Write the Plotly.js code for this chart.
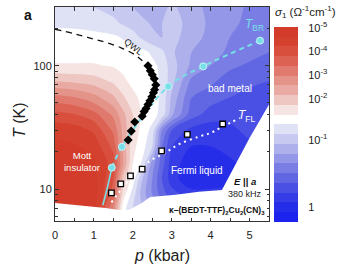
<!DOCTYPE html>
<html><head><meta charset="utf-8">
<script src="https://cdn.plot.ly/plotly-3.0.1.min.js"></script>
<style>html,body{margin:0;padding:0;background:#fff;} #chart{width:346px;height:270px;}</style>
</head><body><div id="chart"></div>
<script>
// ---- data ----
const pressure = [0, 0.5, 1.0, 1.5, 1.75, 2.0, 2.25, 2.5, 2.75, 3.0, 3.5, 4.0, 4.5, 5.0, 5.5];
const temperature = [5.5, 7, 9, 12, 16, 22, 30, 40, 55, 75, 100, 130, 170, 220, 300];
// log10 sigma_1 (Ohm^-1 cm^-1), one row per temperature
const logSigma = [
  [-4.96,-4.92,-4.83,-2.96,-1.50,-1.14,-0.94,-0.80,-0.65,-0.51,-0.36,-0.36,-0.36,-0.36,-0.36],
  [-4.96,-4.92,-4.83,-2.96,-1.50,-1.14,-0.94,-0.80,-0.65,-0.51,-0.36,-0.36,-0.36,-0.36,-0.36],
  [-4.96,-4.92,-4.83,-3.58,-1.74,-1.26,-0.87,-0.65,-0.43,-0.29,-0.14,-0.14,-0.14,-0.17,-0.22],
  [-4.92,-4.88,-4.79,-3.79,-1.98,-1.50,-0.94,-0.65,-0.36,-0.14,0.04,0.04,-0.03,-0.10,-0.22],
  [-4.83,-4.83,-4.71,-4.00,-2.56,-1.62,-1.33,-0.72,-0.43,-0.14,0.01,0.01,-0.04,-0.13,-0.22],
  [-4.71,-4.67,-4.50,-3.67,-2.44,-1.69,-1.48,-1.14,-0.51,-0.22,-0.07,-0.07,-0.13,-0.19,-0.22],
  [-4.50,-4.42,-4.13,-3.29,-2.44,-1.81,-1.52,-1.31,-0.65,-0.36,-0.17,-0.14,-0.19,-0.25,-0.29],
  [-3.96,-3.83,-3.54,-2.88,-2.28,-1.86,-1.57,-1.48,-1.29,-0.83,-0.43,-0.29,-0.25,-0.25,-0.25],
  [-3.13,-3.00,-2.72,-2.24,-1.90,-1.69,-1.55,-1.48,-1.33,-0.91,-0.51,-0.43,-0.36,-0.32,-0.29],
  [-2.16,-2.08,-1.98,-1.81,-1.67,-1.55,-1.50,-1.48,-1.33,-1.00,-0.62,-0.54,-0.43,-0.39,-0.36],
  [-1.64,-1.64,-1.64,-1.60,-1.55,-1.50,-1.48,-1.45,-1.31,-1.02,-0.77,-0.65,-0.54,-0.48,-0.43],
  [-1.52,-1.52,-1.52,-1.52,-1.50,-1.50,-1.45,-1.33,-1.19,-0.97,-0.80,-0.72,-0.62,-0.57,-0.51],
  [-1.50,-1.50,-1.48,-1.43,-1.36,-1.24,-1.10,-0.97,-0.94,-1.00,-0.86,-0.75,-0.65,-0.58,-0.52],
  [-1.33,-1.31,-1.26,-1.19,-1.12,-1.05,-0.97,-0.93,-0.94,-1.05,-0.87,-0.77,-0.68,-0.62,-0.58],
  [-1.24,-1.19,-1.14,-1.07,-1.00,-0.94,-0.90,-0.87,-0.90,-0.97,-0.86,-0.75,-0.68,-0.64,-0.61]
];
// region without data (white)
const noDataP = [0, 0.6, 1.3, 1.6, 1.9, 2.2, 2.45, 3.1, 3.7, 4.29, 5.0, 5.6, 5.6, 0];
const noDataT = [7.7, 7.4, 7.0, 6.8, 6.8, 7.6, 8.6, 9.0, 9.5, 9.8, 26, 55, 5, 5];
// QWL crossover
const qwlP = [0, 0.5, 0.9, 1.3, 1.7, 2.05, 2.3];
const qwlT = [198, 182, 168, 155, 140, 123, 106];
// black diamonds
const diamondP = [2.39, 2.45, 2.50, 2.55, 2.59, 2.56, 2.53, 2.49, 2.44, 2.39, 2.34, 2.29, 2.24, 2.05, 1.96, 1.88];
const diamondT = [100, 91, 84.5, 78.5, 70, 64, 60.5, 56, 52, 48.5, 45, 42.5, 39, 35, 29.5, 25];
// T_BR (cyan)
const tbrP = [1.46, 1.72, 2.91, 3.81, 5.27];
const tbrT = [14.9, 22, 68, 99, 160];
const mottLineP = [1.46, 1.35, 1.23];
const mottLineT = [14.9, 10.4, 7.4];
// T_FL (white dotted) and squares
const tflP = [1.45, 1.8, 2.1, 2.45, 2.85, 3.2, 3.7, 4.0, 4.3, 4.75];
const tflT = [7.8, 10.8, 13.8, 17, 19.8, 23.2, 26.6, 28.5, 32, 37.6];
const squareP = [1.45, 1.69, 1.94, 2.24, 2.74, 3.40, 4.31];
const squareT = [9.3, 11, 12.8, 14.5, 20.4, 27.8, 33.7];
// colour bar: exponents, labels and their place on the bar (in bands)
const cbExp = [-5, -4, -3, -2, -1, 0];
const cbLabels = ['10<sup>-5</sup>', '10<sup>-4</sup>', '10<sup>-3</sup>', '10<sup>-2</sup>', '10<sup>-1</sup>', '1'];
const cbPos = [0.1, 2.5, 4.9, 7.4, 11.6, 18.5];
const bandColors = ['#d33b2a','#d5412f','#d84f3e','#dc6353','#e07a6e','#e49388','#e9aaa3','#eec6c2','#f5e4e2','#ffffff',
  '#dfe1f5','#c7c9f0','#adb0eb','#9497e7','#7a7ee4','#6166e2','#4a50e3','#363ce6','#262de9','#1c23ec'];

function level(L) {
  let i = 0;
  if (L <= cbExp[0]) i = 0;
  else if (L >= cbExp[cbExp.length - 1]) i = cbExp.length - 2;
  else { while (L > cbExp[i + 1]) i++; }
  const f = (L - cbExp[i]) / (cbExp[i + 1] - cbExp[i]);
  return cbPos[i] + f * (cbPos[i + 1] - cbPos[i]);
}
const nb = bandColors.length;
const zLevel = logSigma.map(r => r.map(v => -Math.min(nb - 0.05, Math.max(0.05, level(v)))));
const contourScale = [];
for (let j = 0; j < nb; j++) {
  const c = bandColors[nb - 1 - j];
  contourScale.push([j / nb, c]);
  contourScale.push([(j + 1) / nb, c]);
}
const barScale = [];
for (let j = 0; j < nb; j++) {
  barScale.push([j / nb, bandColors[j]]);
  barScale.push([(j + 1) / nb, bandColors[j]]);
}
const bandIdx = bandColors.map((c, k) => k);

const FONT = 'Liberation Sans, Arial, sans-serif';
const cyan = '#76dfe8';

const traces = [
  {type: 'contour', x: pressure, y: temperature, z: zLevel, zmin: -nb, zmax: 0, zauto: false,
   contours: {start: -nb, end: 0, size: 1, coloring: 'fill', showlines: false},
   line: {width: 0, smoothing: 0.9}, colorscale: contourScale, showscale: false, hoverinfo: 'skip'},
  {type: 'scatter', mode: 'lines', x: noDataP, y: noDataT, fill: 'toself', fillcolor: '#ffffff',
   line: {width: 0, color: '#ffffff'}, hoverinfo: 'skip', showlegend: false},
  {type: 'scatter', mode: 'lines', x: qwlP, y: qwlT, line: {color: '#111', width: 1.3, dash: '6px,5px', shape: 'spline'}, showlegend: false},
  {type: 'scatter', mode: 'lines', x: tflP, y: tflT, line: {color: '#ffffff', width: 2, dash: '2px,4px', shape: 'spline'}, showlegend: false},
  {type: 'scatter', mode: 'lines', x: tbrP, y: tbrT, line: {color: cyan, width: 2, dash: '5px,4px', shape: 'spline'}, showlegend: false},
  {type: 'scatter', mode: 'lines', x: mottLineP, y: mottLineT, line: {color: cyan, width: 1.6, shape: 'spline'}, showlegend: false},
  {type: 'scatter', mode: 'markers', x: diamondP, y: diamondT, marker: {symbol: 'diamond', size: 7, color: '#000'}, showlegend: false},
  {type: 'scatter', mode: 'markers', x: squareP, y: squareT, marker: {symbol: 'square', size: 5.5, color: '#fff', line: {color: '#000', width: 1.3}}, showlegend: false},
  {type: 'scatter', mode: 'markers', x: tbrP, y: tbrT, marker: {symbol: 'circle', size: 7, color: cyan, line: {color: '#c8f5f8', width: 1}}, showlegend: false},
  // colour bar drawn as a one-column heatmap of the bands
  {type: 'heatmap', x: [0], y: bandIdx.map(k => k + 0.5), z: bandIdx.map(k => [k]), zmin: -0.5, zmax: nb - 0.5,
   colorscale: barScale, showscale: false, xaxis: 'x2', yaxis: 'y2', hoverinfo: 'skip'}
];

const ann = (text, x, y, extra) => Object.assign({text: text, x: x, y: y, xref: 'x', yref: 'y', showarrow: false,
  xanchor: 'center', yanchor: 'middle', font: {family: FONT, size: 10, color: '#fff'}}, extra || {});
const dann = (text, x, y, extra) => Object.assign({text: text, x: x, y: y, xref: 'x domain', yref: 'y domain', showarrow: false,
  xanchor: 'center', yanchor: 'middle'}, extra || {});

const layout = {
  width: 346, height: 270,
  margin: {l: 55, r: 0, t: 7, b: 48, autoexpand: false},
  paper_bgcolor: '#fff', plot_bgcolor: 'rgba(0,0,0,0)',
  showlegend: false,
  font: {family: FONT, size: 11, color: '#222'},
  xaxis: {domain: [0, 0.7354], range: [0, 5.5], tickmode: 'array', tickvals: [0, 1, 2, 3, 4, 5], ticks: 'inside', ticklen: 3.5,
    tickcolor: '#333', linecolor: '#333', linewidth: 1, mirror: 'ticks', showline: true, showgrid: false, zeroline: false,
    ticklabelstandoff: 4,
    minor: {tickmode: 'linear', tick0: 0, dtick: 0.5, ticks: 'inside', ticklen: 3.5, tickcolor: '#333'},
    tickfont: {family: FONT, size: 11, color: '#222'}},
  yaxis: {domain: [0.00465, 1], type: 'log', range: [Math.log10(5.5), Math.log10(300)], tickmode: 'array', tickvals: [10, 100],
    ticktext: ['10', '100'], ticks: 'inside', ticklen: 4, tickcolor: '#333', linecolor: '#333', linewidth: 1,
    mirror: 'ticks', showline: true, showgrid: false, zeroline: false,
    minor: {tickmode: 'array', tickvals: [6, 7, 8, 9, 20, 30, 40, 50, 60, 70, 80, 90, 200], ticks: 'inside', ticklen: 2.5, tickcolor: '#333'},
    tickfont: {family: FONT, size: 11, color: '#222'}},
  xaxis2: {domain: [0.7526, 0.8351], range: [-0.5, 0.5], anchor: 'y2', visible: false, fixedrange: true},
  yaxis2: {domain: [0, 0.907], range: [nb, 0], anchor: 'x2', side: 'right', tickmode: 'array',
    tickvals: cbPos, ticktext: cbLabels, ticks: 'outside', ticklen: 7, tickcolor: 'rgba(0,0,0,0)',
    showline: false, showgrid: false, zeroline: false, tickfont: {family: FONT, size: 11, color: '#222'}},
  annotations: [
    dann('<b>a</b>', -0.126, 0.963, {font: {family: FONT, size: 14, color: '#111'}}),
    dann('<i>T</i> (K)', -0.1636, 0.472, {textangle: -90, font: {family: FONT, size: 16, color: '#222'}}),
    dann('<i>p</i> (kbar)', 0.5023, -0.159, {font: {family: FONT, size: 16, color: '#222'}}),
    {text: '<i>σ</i><sub>1</sub> (Ω<sup>-1</sup>cm<sup>-1</sup>)', xref: 'paper', yref: 'paper', x: 0.8625, y: 0.977,
     xanchor: 'center', yanchor: 'middle', showarrow: false, font: {family: FONT, size: 11.5, color: '#222'}},
    ann('QWL', 2.02, 2.152, {textangle: 38, font: {family: FONT, size: 9, color: '#111'}}),
    ann('<i>T</i><sub>BR</sub>', 5.14, 2.331, {font: {family: FONT, size: 12, color: cyan}}),
    ann('bad metal', 4.50, 1.819),
    ann('<i>T</i><sub>FL</sub>', 4.93, 1.592, {font: {family: FONT, size: 12, color: '#fff'}}),
    ann('Mott<br>insulator', 0.69, 1.226, {font: {family: FONT, size: 9.5, color: '#fff'}}),
    ann('Fermi liquid', 3.66, 1.153),
    ann('<b><i>E</i> || <i>a</i></b>', 4.88, 1.064, {font: {family: FONT, size: 9.5, color: '#111'}}),
    ann('380 kHz', 4.875, 0.956, {font: {family: FONT, size: 9, color: '#222'}}),
    ann('<b>κ–(BEDT-TTF)<sub>2</sub>Cu<sub>2</sub>(CN)<sub>3</sub></b>', 5.46, 0.828, {xanchor: 'right', font: {family: FONT, size: 8.5, color: '#111'}})
  ]
};

Plotly.newPlot('chart', traces, layout, {staticPlot: true, displayModeBar: false});
</script>
</body></html>
